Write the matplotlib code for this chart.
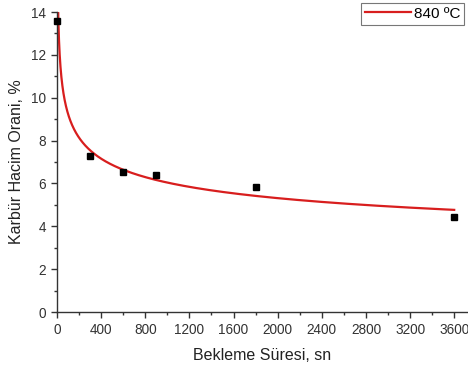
import matplotlib
matplotlib.use("Agg")
import matplotlib.pyplot as plt
import numpy as np
from matplotlib.ticker import MultipleLocator

plt.rcParams['font.family'] = ['Liberation Sans', 'DejaVu Sans']

# Ölçüm noktaları
sure = [0, 300, 600, 900, 1800, 3600]
oran = [13.6, 7.3, 6.55, 6.4, 5.85, 4.45]

x_ticks = [0, 400, 800, 1200, 1600, 2000, 2400, 2800, 3200, 3600]
y_ticks = [0, 2, 4, 6, 8, 10, 12, 14]
legend_label = "840 ºC"

# Üstel (power) trend: x=0 hariç log-log fit
x = np.array(sure[1:], dtype=float)
y = np.array(oran[1:], dtype=float)
k, ln_a = np.polyfit(np.log(x), np.log(y), 1)
x_fit = np.linspace(1, 3600, 4000)
y_fit = np.exp(ln_a) * x_fit ** k

fig = plt.figure(figsize=(4.68, 3.65), dpi=100)
ax = fig.add_axes([57 / 468, 1 - 312 / 365, 1 - 57 / 468, 300 / 365])

ax.plot(x_fit, y_fit, color="#d81e1e", lw=1.6, label=legend_label, zorder=2)
ax.plot(sure, oran, 's', color="black", ms=5, zorder=3, clip_on=False)

ax.set_xlim(0, 3725)
ax.set_ylim(0, 14)
ax.set_xticks(x_ticks)
ax.set_yticks(y_ticks)
ax.xaxis.set_minor_locator(MultipleLocator(200))
ax.yaxis.set_minor_locator(MultipleLocator(1))

for s in ['top', 'right']:
    ax.spines[s].set_visible(False)
for s in ['left', 'bottom']:
    ax.spines[s].set_color("#333333")
    ax.spines[s].set_linewidth(1.0)

ax.tick_params(which='major', direction='out', length=4, width=1, color="#333333",
               labelsize=9.8, labelcolor="#333333", pad=4)
ax.tick_params(which='minor', direction='out', length=2, width=1, color="#333333")

ax.set_xlabel("Bekleme Süresi, sn", fontsize=11.5, color="#222222", labelpad=8)
ax.set_ylabel("Karbür Hacim Orani, %", fontsize=11.5, color="#222222", labelpad=5)

leg = fig.legend(loc='upper left', bbox_to_anchor=(361 / 468, 1 - 3 / 365),
                 fontsize=11, frameon=True, fancybox=False, handlelength=3.0,
                 handletextpad=0.2, borderpad=0.25, borderaxespad=0)
leg.get_frame().set_edgecolor("#555555")
leg.get_frame().set_linewidth(0.8)

fig.savefig("out.png", dpi=100)
